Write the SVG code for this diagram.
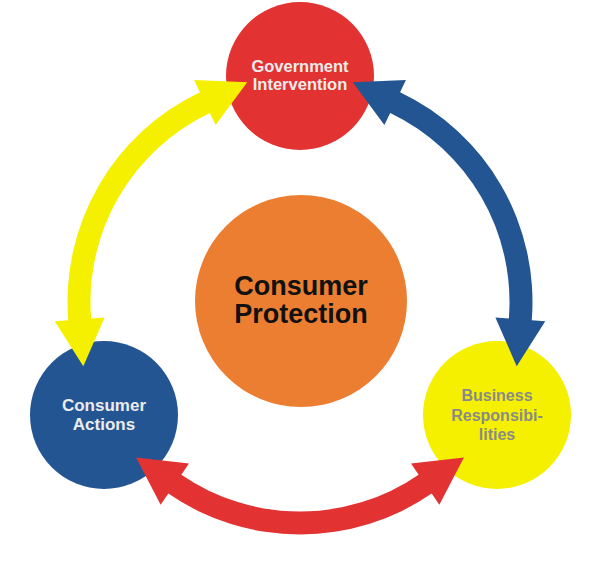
<svg xmlns="http://www.w3.org/2000/svg" width="600" height="564" viewBox="0 0 600 564">
<defs>
<style>
.lbl{font-family:"Liberation Sans",Arial,sans-serif;font-weight:bold;text-anchor:middle}
.lt{fill:#ececec;font-size:16.5px}
.gr{fill:#8a8a8a;font-size:16px}
.big{fill:#111;font-size:27px}
</style>
<path id="arr" d="M 431.69 493.61 A 232.5 232.5 0 0 1 168.31 493.61 L 160.66 504.74 L 136.07 457.57 L 188.98 463.53 L 181.34 474.66 A 209.5 209.5 0 0 0 418.66 474.66 L 411.02 463.53 L 463.93 457.57 L 439.34 504.74 Z"/>
</defs>
<rect width="600" height="564" fill="#fff"/>
<g id="node-center">
<circle cx="301" cy="301" r="106" fill="#ec7e32"/>
<text class="lbl big" x="301" y="295">Consumer</text>
<text class="lbl big" x="301" y="322.5">Protection</text>
</g>
<g id="node-government">
<circle cx="300" cy="76" r="74" fill="#e23232"/>
<text class="lbl lt" x="300" y="72">Government</text>
<text class="lbl lt" x="300" y="90">Intervention</text>
</g>
<g id="node-consumer">
<circle cx="104" cy="415" r="74" fill="#235592"/>
<text class="lbl lt" x="104" y="410.5" style="font-size:17px">Consumer</text>
<text class="lbl lt" x="104" y="430" style="font-size:17px">Actions</text>
</g>
<g id="node-business">
<circle cx="497" cy="415" r="74" fill="#f5f000"/>
<text class="lbl gr" x="497" y="401">Business</text>
<text class="lbl gr" x="497" y="420.5">Responsibi-</text>
<text class="lbl gr" x="497" y="439.5">lities</text>
</g>
<g id="connectors">
<use href="#arr" fill="#e23232"/>
<use href="#arr" fill="#f5f000" transform="rotate(120 300 302)"/>
<use href="#arr" fill="#235592" transform="rotate(240 300 302)"/>
</g>
</svg>
